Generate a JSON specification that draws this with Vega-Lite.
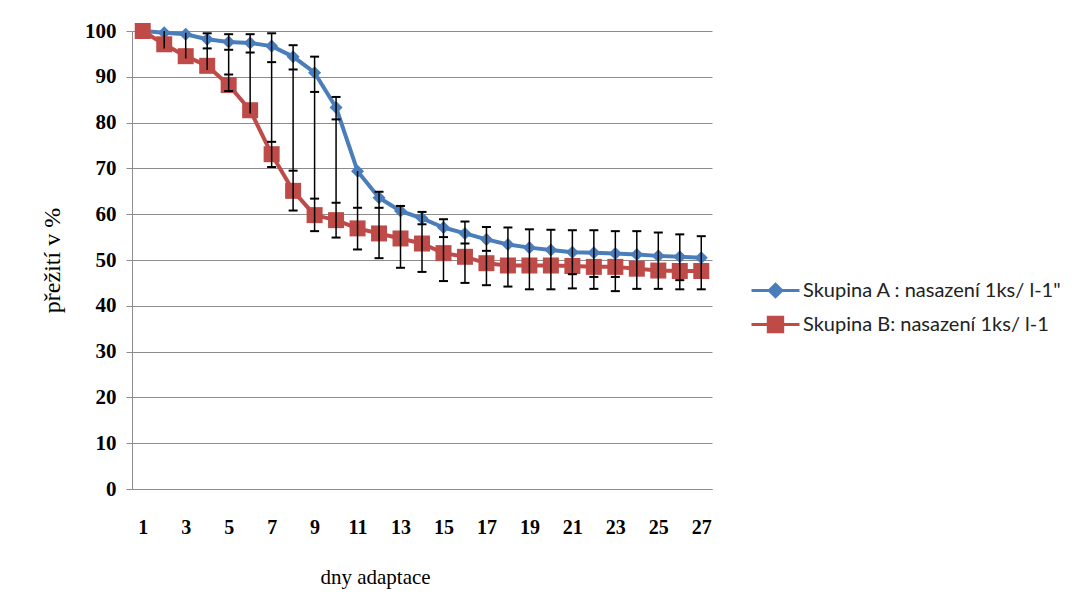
{
  "$schema": "https://vega.github.io/schema/vega-lite/v6.json",
  "autosize": "none",
  "width": 580,
  "height": 458,
  "padding": {"left": 132, "top": 31, "right": 377, "bottom": 120},
  "background": "white",
  "config": {"view": {"stroke": null}},
  "datasets": {
    "main": [
      {"d":1,"s":"Skupina A : nasazení 1ks/ l-1\"","v":100},{"d":2,"s":"Skupina A : nasazení 1ks/ l-1\"","v":99.6},{"d":3,"s":"Skupina A : nasazení 1ks/ l-1\"","v":99.3},{"d":4,"s":"Skupina A : nasazení 1ks/ l-1\"","v":98.2},{"d":5,"s":"Skupina A : nasazení 1ks/ l-1\"","v":97.6},{"d":6,"s":"Skupina A : nasazení 1ks/ l-1\"","v":97.4},{"d":7,"s":"Skupina A : nasazení 1ks/ l-1\"","v":96.7},{"d":8,"s":"Skupina A : nasazení 1ks/ l-1\"","v":94.4},{"d":9,"s":"Skupina A : nasazení 1ks/ l-1\"","v":90.9},{"d":10,"s":"Skupina A : nasazení 1ks/ l-1\"","v":83.3},{"d":11,"s":"Skupina A : nasazení 1ks/ l-1\"","v":69.4},{"d":12,"s":"Skupina A : nasazení 1ks/ l-1\"","v":63.6},{"d":13,"s":"Skupina A : nasazení 1ks/ l-1\"","v":60.7},{"d":14,"s":"Skupina A : nasazení 1ks/ l-1\"","v":59.1},{"d":15,"s":"Skupina A : nasazení 1ks/ l-1\"","v":57.1},{"d":16,"s":"Skupina A : nasazení 1ks/ l-1\"","v":55.8},{"d":17,"s":"Skupina A : nasazení 1ks/ l-1\"","v":54.5},{"d":18,"s":"Skupina A : nasazení 1ks/ l-1\"","v":53.4},{"d":19,"s":"Skupina A : nasazení 1ks/ l-1\"","v":52.7},{"d":20,"s":"Skupina A : nasazení 1ks/ l-1\"","v":52.2},{"d":21,"s":"Skupina A : nasazení 1ks/ l-1\"","v":51.7},{"d":22,"s":"Skupina A : nasazení 1ks/ l-1\"","v":51.6},{"d":23,"s":"Skupina A : nasazení 1ks/ l-1\"","v":51.4},{"d":24,"s":"Skupina A : nasazení 1ks/ l-1\"","v":51.2},{"d":25,"s":"Skupina A : nasazení 1ks/ l-1\"","v":50.9},{"d":26,"s":"Skupina A : nasazení 1ks/ l-1\"","v":50.7},{"d":27,"s":"Skupina A : nasazení 1ks/ l-1\"","v":50.5},
      {"d":1,"s":"Skupina B: nasazení 1ks/ l-1","v":100},{"d":2,"s":"Skupina B: nasazení 1ks/ l-1","v":97.1},{"d":3,"s":"Skupina B: nasazení 1ks/ l-1","v":94.5},{"d":4,"s":"Skupina B: nasazení 1ks/ l-1","v":92.4},{"d":5,"s":"Skupina B: nasazení 1ks/ l-1","v":88.2},{"d":6,"s":"Skupina B: nasazení 1ks/ l-1","v":82.7},{"d":7,"s":"Skupina B: nasazení 1ks/ l-1","v":73.1},{"d":8,"s":"Skupina B: nasazení 1ks/ l-1","v":65.1},{"d":9,"s":"Skupina B: nasazení 1ks/ l-1","v":59.8},{"d":10,"s":"Skupina B: nasazení 1ks/ l-1","v":58.7},{"d":11,"s":"Skupina B: nasazení 1ks/ l-1","v":56.9},{"d":12,"s":"Skupina B: nasazení 1ks/ l-1","v":55.8},{"d":13,"s":"Skupina B: nasazení 1ks/ l-1","v":54.7},{"d":14,"s":"Skupina B: nasazení 1ks/ l-1","v":53.6},{"d":15,"s":"Skupina B: nasazení 1ks/ l-1","v":51.5},{"d":16,"s":"Skupina B: nasazení 1ks/ l-1","v":50.7},{"d":17,"s":"Skupina B: nasazení 1ks/ l-1","v":49.3},{"d":18,"s":"Skupina B: nasazení 1ks/ l-1","v":48.8},{"d":19,"s":"Skupina B: nasazení 1ks/ l-1","v":48.8},{"d":20,"s":"Skupina B: nasazení 1ks/ l-1","v":48.8},{"d":21,"s":"Skupina B: nasazení 1ks/ l-1","v":48.7},{"d":22,"s":"Skupina B: nasazení 1ks/ l-1","v":48.5},{"d":23,"s":"Skupina B: nasazení 1ks/ l-1","v":48.5},{"d":24,"s":"Skupina B: nasazení 1ks/ l-1","v":48.1},{"d":25,"s":"Skupina B: nasazení 1ks/ l-1","v":47.7},{"d":26,"s":"Skupina B: nasazení 1ks/ l-1","v":47.6},{"d":27,"s":"Skupina B: nasazení 1ks/ l-1","v":47.6}
    ],
    "spans": [
      {"d":2,"top":100,"bot":96.2},{"d":3,"top":99.6,"bot":94},{"d":4,"top":99.5,"bot":91.5},{"d":5,"top":99.3,"bot":86.9},{"d":6,"top":99.3,"bot":82},{"d":7,"top":99.5,"bot":70.3},{"d":8,"top":96.9,"bot":60.8},{"d":9,"top":94.4,"bot":56.3},{"d":10,"top":85.6,"bot":54.9},{"d":11,"top":69.4,"bot":52.3},{"d":12,"top":64.9,"bot":50.4},{"d":13,"top":61.8,"bot":48.3},{"d":14,"top":60.5,"bot":47.4},{"d":15,"top":58.9,"bot":45.4},{"d":16,"top":58.4,"bot":45.0},{"d":17,"top":57.2,"bot":44.5},{"d":18,"top":57.1,"bot":44.2},{"d":19,"top":56.7,"bot":43.6},{"d":20,"top":56.6,"bot":43.6},{"d":21,"top":56.5,"bot":43.8},{"d":22,"top":56.5,"bot":43.7},{"d":23,"top":56.3,"bot":43.2},{"d":24,"top":56.3,"bot":43.7},{"d":25,"top":56.0,"bot":43.7},{"d":26,"top":55.6,"bot":43.6},{"d":27,"top":55.2,"bot":43.6}
    ],
    "caps": [
      {"d":4,"c":99.5},{"d":4,"c":96.2},
      {"d":5,"c":99.3},{"d":5,"c":95.9},{"d":5,"c":90.5},{"d":5,"c":86.9},
      {"d":6,"c":99.3},{"d":6,"c":95.3},
      {"d":7,"c":99.5},{"d":7,"c":93.2},{"d":7,"c":75.8},{"d":7,"c":70.3},
      {"d":8,"c":96.9},{"d":8,"c":91.6},{"d":8,"c":69.5},{"d":8,"c":60.8},
      {"d":9,"c":94.4},{"d":9,"c":86.7},{"d":9,"c":63.4},{"d":9,"c":56.3},
      {"d":10,"c":85.6},{"d":10,"c":80.7},{"d":10,"c":62.5},{"d":10,"c":54.9},
      {"d":11,"c":61.4},{"d":11,"c":52.3},
      {"d":12,"c":64.9},{"d":12,"c":61.4},{"d":12,"c":50.4},
      {"d":13,"c":61.8},{"d":13,"c":48.3},
      {"d":14,"c":60.5},{"d":14,"c":57.8},{"d":14,"c":47.4},
      {"d":15,"c":58.9},{"d":15,"c":55.0},{"d":15,"c":45.4},
      {"d":16,"c":58.4},{"d":16,"c":53.6},{"d":16,"c":45.0},
      {"d":17,"c":57.2},{"d":17,"c":52.0},{"d":17,"c":44.5},
      {"d":18,"c":57.1},{"d":18,"c":44.2},
      {"d":19,"c":56.7},{"d":19,"c":43.6},
      {"d":20,"c":56.6},{"d":20,"c":43.6},
      {"d":21,"c":56.5},{"d":21,"c":46.9},{"d":21,"c":43.8},
      {"d":22,"c":56.5},{"d":22,"c":46.3},{"d":22,"c":43.7},
      {"d":23,"c":56.3},{"d":23,"c":46.3},{"d":23,"c":43.2},
      {"d":24,"c":56.3},{"d":24,"c":43.7},
      {"d":25,"c":56.0},{"d":25,"c":43.7},
      {"d":26,"c":55.6},{"d":26,"c":45.6},{"d":26,"c":43.6},
      {"d":27,"c":55.2},{"d":27,"c":43.6}
    ]
  },
  "encoding": {
    "x": {
      "field": "d", "type": "ordinal",
      "scale": {"type": "point", "padding": 0.5, "domain": [1,2,3,4,5,6,7,8,9,10,11,12,13,14,15,16,17,18,19,20,21,22,23,24,25,26,27]},
      "axis": {
        "values": [1,3,5,7,9,11,13,15,17,19,21,23,25,27],
        "labelAngle": 0, "ticks": false, "grid": false,
        "domainColor": "#8c8c8c", "domainWidth": 1,
        "labelFont": "Liberation Serif", "labelFontSize": 20, "labelFontWeight": "bold", "labelColor": "#000000",
        "labelPadding": 28,
        "title": "dny adaptace", "titleFont": "Liberation Serif", "titleFontSize": 21, "titleFontWeight": "normal", "titleColor": "#000000",
        "titleX": 243, "titleY": 94, "titleBaseline": "alphabetic", "titleAlign": "center", "titleAnchor": null
      }
    }
  },
  "layer": [
    {
      "data": {"name": "main"},
      "encoding": {
        "y": {
          "field": "v", "type": "quantitative",
          "scale": {"domain": [0, 100], "nice": false},
          "axis": {
            "values": [0,10,20,30,40,50,60,70,80,90,100],
            "grid": true, "gridColor": "#8c8c8c", "gridWidth": 1,
            "domainColor": "#8c8c8c", "tickColor": "#8c8c8c", "tickSize": 6,
            "labelFont": "Liberation Serif", "labelFontSize": 21, "labelFontWeight": "bold", "labelColor": "#000000",
            "labelPadding": 10,
            "title": "přežití v %", "titleFont": "Liberation Serif", "titleFontSize": 24, "titleFontWeight": "normal", "titleColor": "#000000",
            "titleX": -80, "titleY": 229, "titleAngle": -90, "titleBaseline": "middle", "titleAlign": "center", "titleAnchor": null
          }
        },
        "color": {
          "field": "s", "type": "nominal",
          "scale": {"domain": ["Skupina A : nasazení 1ks/ l-1\"", "Skupina B: nasazení 1ks/ l-1"], "range": ["#4A7EBB", "#BE4B48"]},
          "legend": {
            "orient": "none", "legendX": 630, "legendY": 246, "title": null, "padding": 0,
            "labelFont": "Lato", "labelFontSize": 20, "labelColor": "#222222", "labelOffset": 14, "labelLimit": 500,
            "rowPadding": 8, "symbolSize": 576, "symbolStrokeWidth": 3,
            "encode": {
              "symbols": {
                "update": {
                  "shape": {"signal": "indexof(datum.value, 'Skupina A') === 0 ? 'M-2,0L2,0M0,-0.52L0.52,0L0,0.52L-0.52,0Z' : 'M-2,0L2,0M-0.6,-0.6L0.6,-0.6L0.6,0.6L-0.6,0.6Z'"},
                  "size": {"value": 576},
                  "fill": {"signal": "indexof(datum.value, 'Skupina A') === 0 ? '#4F81BD' : '#C0504D'"},
                  "stroke": {"signal": "indexof(datum.value, 'Skupina A') === 0 ? '#4A7EBB' : '#BE4B48'"},
                  "strokeWidth": {"value": 3},
                  "opacity": {"value": 1}
                }
              }
            }
          }
        }
      },
      "layer": [
        {"mark": {"type": "line", "strokeWidth": 4, "strokeJoin": "round"}},
        {
          "transform": [{"filter": "indexof(datum.s, 'Skupina A') === 0"}],
          "mark": {"type": "point", "filled": true, "opacity": 1, "shape": "diamond", "size": 170, "color": "#4F81BD"}
        },
        {
          "transform": [{"filter": "indexof(datum.s, 'Skupina B') === 0"}],
          "mark": {"type": "point", "filled": true, "opacity": 1, "shape": "square", "size": 256, "color": "#C0504D"}
        }
      ]
    },
    {
      "data": {"name": "spans"},
      "mark": {"type": "rule", "color": "#000000", "strokeWidth": 1.5},
      "encoding": {
        "y": {"field": "top", "type": "quantitative"},
        "y2": {"field": "bot"}
      }
    },
    {
      "data": {"name": "caps"},
      "mark": {"type": "tick", "orient": "horizontal", "color": "#000000", "size": 9, "thickness": 2, "opacity": 1},
      "encoding": {
        "y": {"field": "c", "type": "quantitative"}
      }
    }
  ]
}
